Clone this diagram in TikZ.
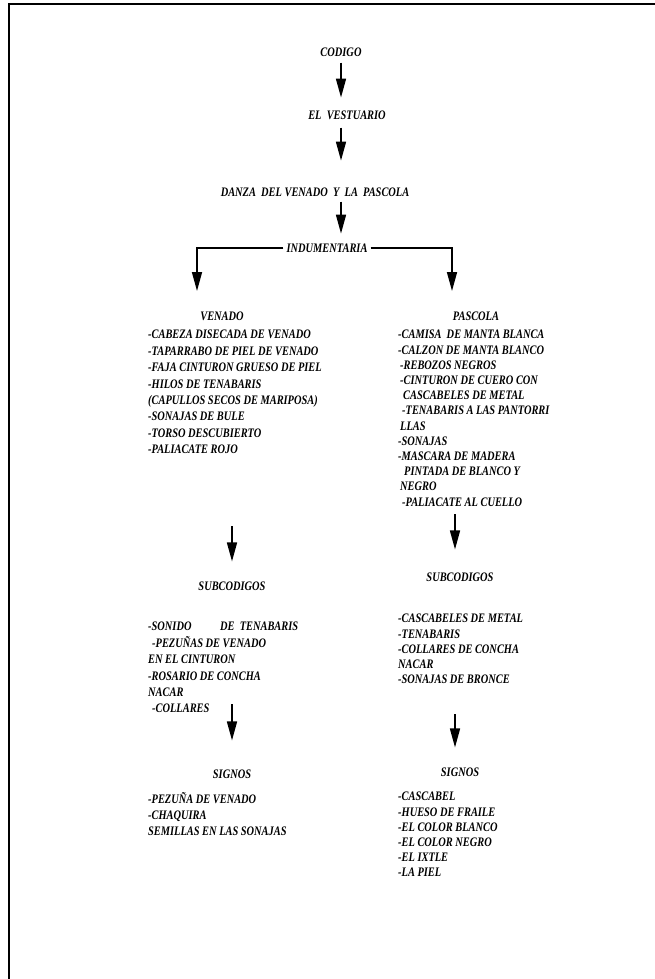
\documentclass[tikz,border=0pt]{standalone}
\usepackage{fontspec}
\setmainfont{Liberation Serif}
\newfontfamily\diagfont{Liberation Serif}[FakeStretch=0.8]
\usetikzlibrary{arrows.meta}
\begin{document}
\begin{tikzpicture}[x=1pt,y=-1pt,
  lbl/.style={font=\diagfont\bfseries\itshape\fontsize{13}{16.4}\selectfont, inner sep=0pt},
  lst/.style={lbl, align=left, anchor=north west},
  lstr/.style={lst, font=\diagfont\bfseries\itshape\fontsize{13}{15.2}\selectfont},
  arr/.style={line width=1.6pt, -{Triangle[width=10pt,length=19pt]}},
  frame/.style={line width=1.6pt}]
\useasboundingbox (0,0) rectangle (655,979);
\draw[frame] (655,4) -- (9,4) -- (9,979);

\node[lbl] (codigo) at (341,52) {CODIGO};
\node[lbl] (vest) at (347,115) {EL \ VESTUARIO};
\node[lbl] (danza) at (315,192) {DANZA \ DEL VENADO \ Y \ LA \ PASCOLA};
\node[lbl] (indu) at (327,248) {INDUMENTARIA};
\node[lbl] (venado) at (222,316) {VENADO};
\node[lbl] (pascola) at (476,316) {PASCOLA};

\node[lst] (l1) at (148,330) {-CABEZA DISECADA DE VENADO\\
-TAPARRABO DE PIEL DE VENADO\\
-FAJA CINTURON GRUESO DE PIEL\\
-HILOS DE TENABARIS\\
(CAPULLOS SECOS DE MARIPOSA)\\
-SONAJAS DE BULE\\
-TORSO DESCUBIERTO\\
-PALIACATE ROJO};

\node[lstr] (r1) at (398,330) {-CAMISA \ DE MANTA BLANCA\\
-CALZON DE MANTA BLANCO\\
\hspace*{2pt}-REBOZOS NEGROS\\
\hspace*{2pt}-CINTURON DE CUERO CON\\
\hspace*{5pt}CASCABELES DE METAL\\
\hspace*{4pt}-TENABARIS A LAS PANTORRI\\
\hspace*{2pt}LLAS\\
-SONAJAS\\
-MASCARA DE MADERA\\
\hspace*{6pt}PINTADA DE BLANCO Y\\
\hspace*{2pt}NEGRO\\
\hspace*{4pt}-PALIACATE AL CUELLO};

\node[lbl] (sub1) at (232,586) {SUBCODIGOS};
\node[lbl] (sub2) at (460,577) {SUBCODIGOS};

\node[lst] (l2) at (148,622) {-SONIDO \qquad DE \ TENABARIS\\
\hspace*{4pt}-PEZUÑAS DE VENADO\\
EN EL CINTURON\\
-ROSARIO DE CONCHA\\
NACAR\\
\hspace*{4pt}-COLLARES};

\node[lstr] (r2) at (398,614) {-CASCABELES DE METAL\\
-TENABARIS\\
-COLLARES DE CONCHA\\
NACAR\\
-SONAJAS DE BRONCE};

\node[lbl] (sig1) at (232,774) {SIGNOS};
\node[lbl] (sig2) at (460,772) {SIGNOS};

\node[lst] (l3) at (148,792) {-PEZUÑA DE VENADO\\
-CHAQUIRA\\
SEMILLAS EN LAS SONAJAS};

\node[lstr] (r3) at (398,792) {-CASCABEL\\
-HUESO DE FRAILE\\
-EL COLOR BLANCO\\
-EL COLOR NEGRO\\
-EL IXTLE\\
-LA PIEL};

% main spine
\draw[arr] ([yshift=-6pt]codigo.south) -- ++(0,35);
\draw[arr] ([xshift=-6pt,yshift=-8pt]vest.south) -- ++(0,33);
\draw[arr] ([xshift=26pt,yshift=-5pt]danza.south) -- ++(0,32);
% branches
\coordinate (vl) at (197,291);
\coordinate (vr) at (452,291);
\draw[arr] ([xshift=-3pt]indu.west) -| (vl);
\draw[arr] ([xshift=3pt]indu.east) -| (vr);
% lower arrows
\draw[arr] ([yshift=55pt]sub1.north) -- ++(0,35);
\draw[arr] ([xshift=-5pt,yshift=58pt]sub2.north) -- ++(0,35);
\draw[arr] ([yshift=65pt]sig1.north) -- ++(0,36);
\draw[arr] ([xshift=-5pt,yshift=53pt]sig2.north) -- ++(0,33);
\end{tikzpicture}
\end{document}
